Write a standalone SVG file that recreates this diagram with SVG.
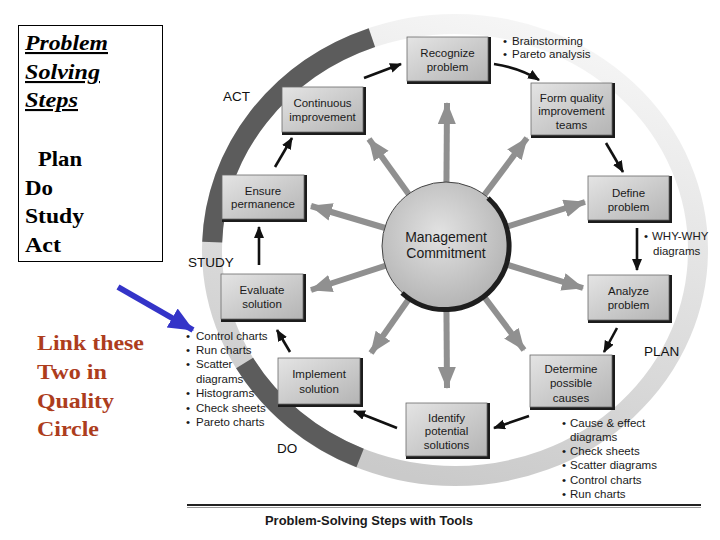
<svg xmlns="http://www.w3.org/2000/svg" width="720" height="540" viewBox="0 0 720 540">
<style>
.bt{font-family:"Liberation Sans",Arial,sans-serif;font-size:11.5px;fill:#1a1a1a;text-anchor:middle}
.tl{font-family:"Liberation Sans",Arial,sans-serif;font-size:11.5px;fill:#1a1a1a}
.ph{font-family:"Liberation Sans",Arial,sans-serif;font-size:13.5px;fill:#111}
.ttl{font-family:"Liberation Serif","Times New Roman",serif;font-size:21px;font-weight:bold;font-style:italic;fill:#000;text-decoration:underline}
.pd{font-family:"Liberation Serif","Times New Roman",serif;font-size:21px;font-weight:bold;fill:#000}
.rd{font-family:"Liberation Serif","Times New Roman",serif;font-size:22px;font-weight:bold;fill:#ad3d1d}
.sh{fill:#1c1c1c}
.bx{fill:url(#boxg);stroke:#6a6a6a;stroke-width:0.8}
.ga{stroke:#909090;stroke-width:6;fill:none;marker-end:url(#gh)}
.ka{stroke:#111;stroke-width:2.6;fill:none;marker-end:url(#kh)}
</style>
<defs>
<linearGradient id="boxg" x1="0" y1="0" x2="1" y2="1">
<stop offset="0" stop-color="#e4e4e4"/>
<stop offset="1" stop-color="#b4b4b4"/>
</linearGradient>
<radialGradient id="circg" cx="0.45" cy="0.4" r="0.65">
<stop offset="0" stop-color="#e2e2e2"/>
<stop offset="1" stop-color="#b0b0b0"/>
</radialGradient>
<linearGradient id="ringg" x1="0.7" y1="0" x2="0.4" y2="1">
<stop offset="0" stop-color="#f6f6f6"/>
<stop offset="0.45" stop-color="#e2e2e2"/>
<stop offset="1" stop-color="#cacaca"/>
</linearGradient>
<marker id="gh" markerUnits="userSpaceOnUse" markerWidth="24" markerHeight="20" refX="21" refY="9" orient="auto">
<path d="M0,0 L22,9 L0,18 z" fill="#909090"/>
</marker>
<marker id="kh" markerUnits="userSpaceOnUse" markerWidth="13" markerHeight="11" refX="11" refY="5" orient="auto">
<path d="M0,0 L12,5 L0,10 z" fill="#111"/>
</marker>
<marker id="bh" markerUnits="userSpaceOnUse" markerWidth="26" markerHeight="24" refX="24" refY="11" orient="auto">
<path d="M0,0 L25,11 L0,22 z" fill="#3434c8"/>
</marker>
</defs>
<rect width="720" height="540" fill="#fff"/>

<g id="title-box">
<rect x="18.5" y="25.5" width="144" height="236" fill="#fff" stroke="#000" stroke-width="1"/>
<text class="ttl" x="25" y="50" textLength="83" lengthAdjust="spacingAndGlyphs">Problem</text>
<text class="ttl" x="25" y="79" textLength="75" lengthAdjust="spacingAndGlyphs">Solving</text>
<text class="ttl" x="25" y="107" textLength="53" lengthAdjust="spacingAndGlyphs">Steps</text>
<text class="pd" x="38" y="166" textLength="44" lengthAdjust="spacingAndGlyphs">Plan</text>
<text class="pd" x="25" y="195" textLength="28" lengthAdjust="spacingAndGlyphs">Do</text>
<text class="pd" x="25" y="223" textLength="59" lengthAdjust="spacingAndGlyphs">Study</text>
<text class="pd" x="25" y="252" textLength="36" lengthAdjust="spacingAndGlyphs">Act</text>
</g>

<g id="link-note">
<text class="rd" x="37" y="350" textLength="107" lengthAdjust="spacingAndGlyphs">Link these</text>
<text class="rd" x="37" y="379" textLength="70" lengthAdjust="spacingAndGlyphs">Two in</text>
<text class="rd" x="37" y="408" textLength="77" lengthAdjust="spacingAndGlyphs">Quality</text>
<text class="rd" x="37" y="436" textLength="62" lengthAdjust="spacingAndGlyphs">Circle</text>
</g>

<g id="ring">
<ellipse cx="455" cy="250" rx="243" ry="226" fill="none" stroke="url(#ringg)" stroke-width="20"/>
<path d="M212.2 242.1 A243 226 0 0 1 371.9 37.6" fill="none" stroke="#5c5c5c" stroke-width="20"/>
<path d="M360.1 458 A243 226 0 0 1 244.6 363" fill="none" stroke="#5c5c5c" stroke-width="20"/>
<text class="ph" x="223" y="101">ACT</text>
<text class="ph" x="188" y="267">STUDY</text>
<text class="ph" x="277" y="453">DO</text>
<text class="ph" x="644" y="356">PLAN</text>
</g>

<g id="connectors">
<g id="radial-arrows">
<line class="ga" x1="446" y1="246" x2="447" y2="103"/>
<line class="ga" x1="446" y1="246" x2="527" y2="138"/>
<line class="ga" x1="446" y1="246" x2="585" y2="202"/>
<line class="ga" x1="446" y1="246" x2="583" y2="288"/>
<line class="ga" x1="446" y1="246" x2="524" y2="350"/>
<line class="ga" x1="446" y1="246" x2="447" y2="388"/>
<line class="ga" x1="446" y1="246" x2="371" y2="353"/>
<line class="ga" x1="446" y1="246" x2="311" y2="290"/>
<line class="ga" x1="446" y1="246" x2="311" y2="206"/>
<line class="ga" x1="446" y1="246" x2="369" y2="139"/>
</g>
<g id="cycle-arrows">
<path class="ka" d="M364 78 L401 64"/>
<path class="ka" d="M494 64 Q520 68 539 80"/>
<path class="ka" d="M606 143 L623 172"/>
<path class="ka" d="M637 228 L637 270"/>
<path class="ka" d="M617 328 L604 352"/>
<path class="ka" d="M529 416 L494 428"/>
<path class="ka" d="M397 428 L354 411"/>
<path class="ka" d="M290 352 L277 330"/>
<path class="ka" d="M259 265 L259 227"/>
<path class="ka" d="M275 167 L292 138"/>
</g>
<line id="blue-arrow" x1="118" y1="287" x2="193" y2="330" stroke="#3434c8" stroke-width="6" marker-end="url(#bh)"/>
</g>

<g id="management">
<circle cx="446" cy="246" r="64" fill="url(#circg)" stroke="#444" stroke-width="1"/>
<path d="M488 198 A64 64 0 0 1 402 293" fill="none" stroke="#1e1e1e" stroke-width="5"/>
<text class="bt" x="446" y="242" style="font-size:14px">Management</text>
<text class="bt" x="446" y="258" style="font-size:14px">Commitment</text>
</g>

<g id="recognize">
<rect class="sh" x="407" y="37" width="84" height="47"/>
<rect class="bx" x="407" y="37" width="81" height="44"/>
<text class="bt" x="447.5" y="57">Recognize</text>
<text class="bt" x="447.5" y="71">problem</text>
</g>
<g id="form-teams">
<rect class="sh" x="531" y="83" width="84" height="55"/>
<rect class="bx" x="531" y="83" width="81" height="52"/>
<text class="bt" x="571.5" y="102">Form quality</text>
<text class="bt" x="571.5" y="115">improvement</text>
<text class="bt" x="571.5" y="129">teams</text>
</g>
<g id="define">
<rect class="sh" x="588" y="176" width="84" height="47"/>
<rect class="bx" x="588" y="176" width="81" height="44"/>
<text class="bt" x="628.5" y="197">Define</text>
<text class="bt" x="628.5" y="211">problem</text>
</g>
<g id="analyze">
<rect class="sh" x="588" y="275" width="84" height="48"/>
<rect class="bx" x="588" y="275" width="81" height="45"/>
<text class="bt" x="628.5" y="295">Analyze</text>
<text class="bt" x="628.5" y="309">problem</text>
</g>
<g id="determine">
<rect class="sh" x="530" y="355" width="85" height="55"/>
<rect class="bx" x="530" y="355" width="82" height="52"/>
<text class="bt" x="571" y="373">Determine</text>
<text class="bt" x="571" y="387">possible</text>
<text class="bt" x="571" y="402">causes</text>
</g>
<g id="identify">
<rect class="sh" x="406" y="403" width="84" height="56"/>
<rect class="bx" x="406" y="403" width="81" height="53"/>
<text class="bt" x="446.5" y="422">Identify</text>
<text class="bt" x="446.5" y="435">potential</text>
<text class="bt" x="446.5" y="449">solutions</text>
</g>
<g id="implement">
<rect class="sh" x="278" y="358" width="85" height="49"/>
<rect class="bx" x="278" y="358" width="82" height="46"/>
<text class="bt" x="319" y="378">Implement</text>
<text class="bt" x="319" y="393">solution</text>
</g>
<g id="evaluate">
<rect class="sh" x="221" y="274" width="85" height="48"/>
<rect class="bx" x="221" y="274" width="82" height="45"/>
<text class="bt" x="262" y="294">Evaluate</text>
<text class="bt" x="262" y="308">solution</text>
</g>
<g id="ensure">
<rect class="sh" x="222" y="175" width="85" height="47"/>
<rect class="bx" x="222" y="175" width="82" height="44"/>
<text class="bt" x="263" y="195">Ensure</text>
<text class="bt" x="263" y="208">permanence</text>
</g>
<g id="continuous">
<rect class="sh" x="282" y="87" width="84" height="48"/>
<rect class="bx" x="282" y="87" width="81" height="45"/>
<text class="bt" x="322.5" y="107">Continuous</text>
<text class="bt" x="322.5" y="121">improvement</text>
</g>

<g id="tools-recognize">
<text class="tl" x="503" y="45">•</text><text class="tl" x="512" y="45">Brainstorming</text>
<text class="tl" x="503" y="58">•</text><text class="tl" x="512" y="58">Pareto analysis</text>
</g>
<g id="tools-define">
<text class="tl" x="644" y="240">•</text><text class="tl" x="652" y="240">WHY-WHY</text>
<text class="tl" x="653" y="255">diagrams</text>
</g>
<g id="tools-evaluate">
<text class="tl" x="186" y="340">•</text><text class="tl" x="196" y="340">Control charts</text>
<text class="tl" x="186" y="354">•</text><text class="tl" x="196" y="354">Run charts</text>
<text class="tl" x="186" y="368">•</text><text class="tl" x="196" y="368">Scatter</text>
<text class="tl" x="196" y="383">diagrams</text>
<text class="tl" x="186" y="397">•</text><text class="tl" x="196" y="397">Histograms</text>
<text class="tl" x="186" y="412">•</text><text class="tl" x="196" y="412">Check sheets</text>
<text class="tl" x="186" y="426">•</text><text class="tl" x="196" y="426">Pareto charts</text>
</g>
<g id="tools-determine">
<text class="tl" x="562" y="427">•</text><text class="tl" x="570" y="427">Cause &amp; effect</text>
<text class="tl" x="570" y="441">diagrams</text>
<text class="tl" x="562" y="455">•</text><text class="tl" x="570" y="455">Check sheets</text>
<text class="tl" x="562" y="469">•</text><text class="tl" x="570" y="469">Scatter diagrams</text>
<text class="tl" x="562" y="484">•</text><text class="tl" x="570" y="484">Control charts</text>
<text class="tl" x="562" y="498">•</text><text class="tl" x="570" y="498">Run charts</text>
</g>

<g id="caption">
<line x1="187" y1="505" x2="701" y2="505" stroke="#222" stroke-width="2"/>
<line x1="187" y1="507.5" x2="701" y2="507.5" stroke="#999" stroke-width="1"/>
<text x="265" y="525" textLength="208" lengthAdjust="spacingAndGlyphs" style="font-family:'Liberation Sans',Arial,sans-serif;font-size:12px;font-weight:bold;fill:#1a1a1a">Problem-Solving Steps with Tools</text>
</g>
</svg>
